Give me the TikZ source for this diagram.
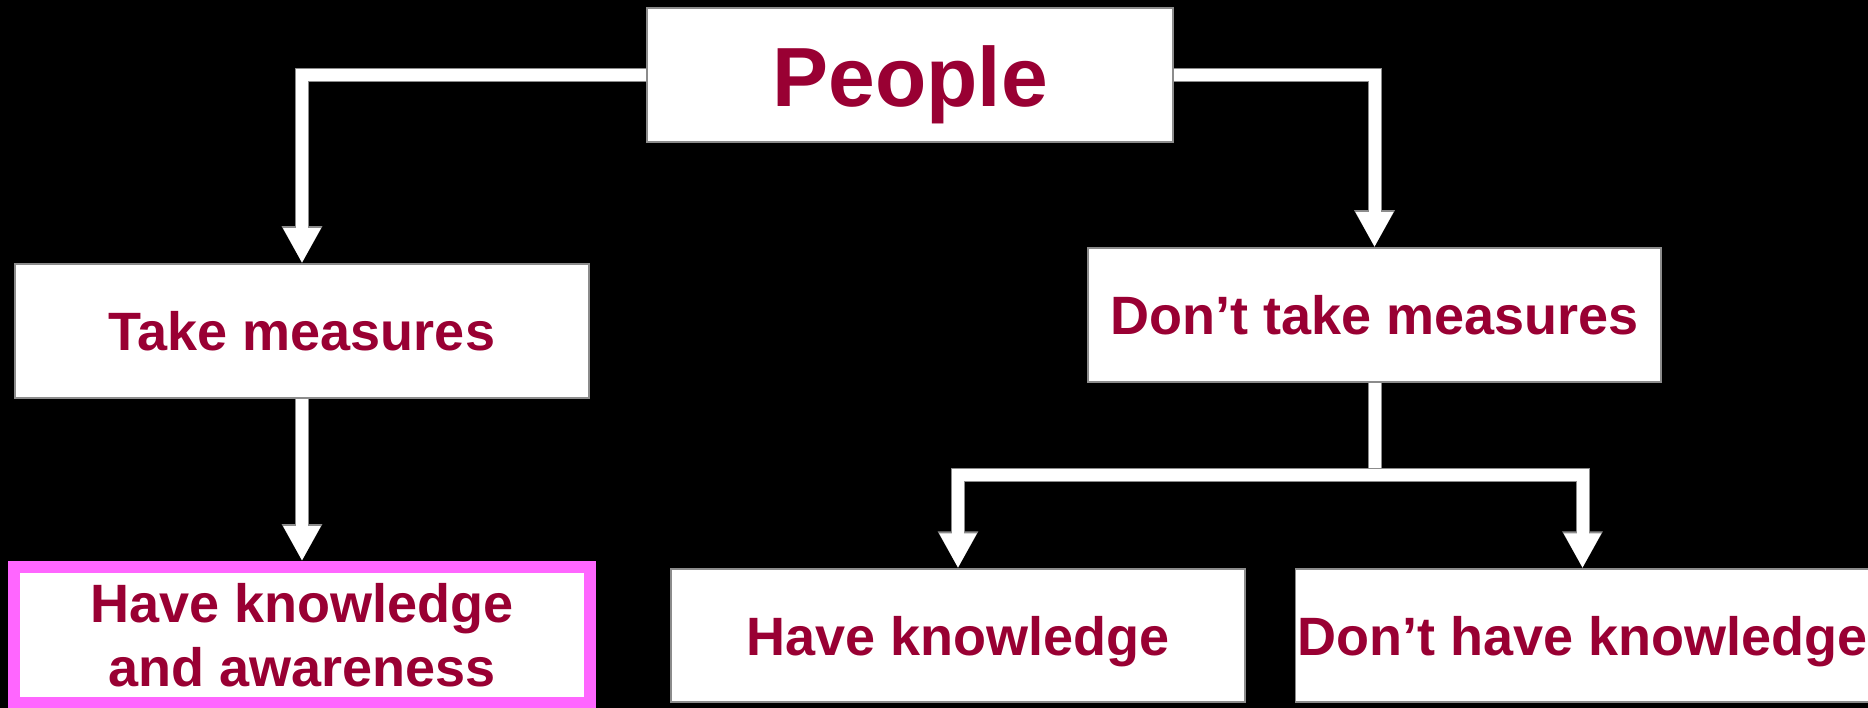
\documentclass[tikz,border=0pt]{standalone}
\usepackage{fontspec}
\setmainfont{Liberation Sans}
\usetikzlibrary{arrows.meta,calc}
\definecolor{crim}{HTML}{990033}
\definecolor{magb}{HTML}{FF66FF}
\definecolor{edge}{HTML}{8C8C8C}
\tikzset{
  box/.style={rectangle, fill=white, draw=edge, line width=1.5pt, inner sep=0pt,
    text=crim, font=\bfseries\fontsize{54pt}{64pt}\selectfont},
  oneline/.style={text height=40pt, text depth=0pt},
  bigbox/.style={box, text height=64pt, text depth=0pt, font=\bfseries\fontsize{84pt}{96pt}\selectfont},
  hibox/.style={box, draw=magb, line width=12pt, align=center},
  connline/.style={draw=white, line width=12pt,
    preaction={draw=edge, line width=14pt}},
  conn/.style={draw=white, line width=12pt, -{Triangle[length=35pt,width=35pt]},
    preaction={draw=edge, line width=14pt, arrows={-Triangle[length=37pt,width=38pt]}}}
}
\begin{document}
\begin{tikzpicture}[x=1pt,y=-1pt]
\fill[black] (0,0) rectangle (1868,708);
\useasboundingbox (0,0) rectangle (1868,708);
\node[bigbox, minimum width=526pt, minimum height=134pt] (people) at (910,75) {People};
\node[box, oneline, minimum width=574pt, minimum height=134pt] (take) at (302,331) {Take measures};
\node[box, oneline, minimum width=573pt, minimum height=134pt] (dtake) at (1374.5,315) {Don’t take measures};
\node[hibox, minimum width=575.5pt, minimum height=136pt] (hka) at (302,635) {Have knowledge\\and awareness};
\node[box, oneline, minimum width=574pt, minimum height=133pt] (hk) at (958,635.5) {Have knowledge};
\node[box, oneline, minimum width=574pt, minimum height=133pt] (dhk) at (1582.5,635.5) {Don’t have knowledge};
\coordinate (br) at (1374.5,475);
\draw[conn] (people.west) -| (take.north);
\draw[conn] (people.east) -| (dtake.north);
\draw[conn] (take.south) -- (hka.north);
\draw[connline] (dtake.south) -- (br);
\draw[conn] (br) -| (hk.north);
\draw[conn] (br) -| (dhk.north);
\end{tikzpicture}
\end{document}
